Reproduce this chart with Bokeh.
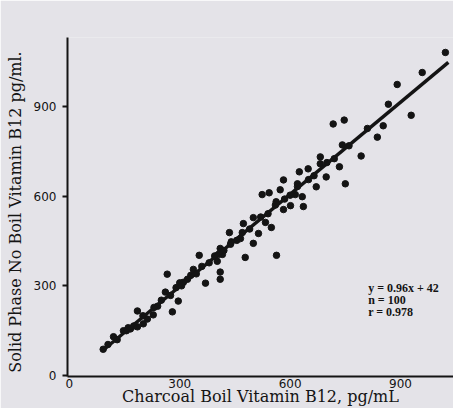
from bokeh.plotting import figure
from bokeh.models import Range1d, Label, FixedTicker, ColumnDataSource
from bokeh.embed import file_html
from bokeh.resources import INLINE

# Scatter data (Charcoal Boil vs Solid Phase No Boil, pg/mL)
charcoal = [1022, 959, 891, 867, 929, 717, 747, 853, 837, 793,
            742, 682, 682, 734, 649, 625, 698, 671, 750, 582,
            573, 620, 614, 633, 636, 601, 582, 524, 543, 562,
            500, 473, 533, 549, 514, 500, 478, 563, 435, 465,
            438, 410, 416, 353, 402, 410, 410, 370, 337, 321,
            266, 310, 296, 280, 261, 228, 185, 212, 185, 147,
            166, 120, 92, 201, 105, 130, 160, 175, 200, 240,
            250, 275, 290, 305, 330, 345, 360, 380, 395, 420,
            440, 455, 470, 490, 520, 540, 560, 600, 620, 650,
            700, 720, 760, 810, 155, 230, 300, 405, 585, 665]
solid_phase = [1080, 1013, 973, 907, 870, 841, 854, 835, 797, 734,
               771, 731, 708, 698, 691, 681, 664, 631, 641, 654,
               621, 641, 605, 598, 565, 568, 555, 605, 611, 581,
               528, 508, 512, 495, 475, 442, 395, 402, 478, 458,
               439, 425, 405, 402, 382, 346, 322, 309, 355, 322,
               339, 312, 249, 213, 279, 203, 216, 189, 163, 150,
               156, 130, 88, 173, 104, 120, 160, 166, 200, 232,
               252, 268, 294, 300, 335, 340, 365, 377, 400, 418,
               447, 452, 478, 490, 530, 541, 570, 603, 632, 655,
               712, 725, 768, 826, 150, 228, 310, 405, 590, 668]

# Regression line as drawn (end points)
fit_x = [90, 1030]
fit_y = [83, 1047]

x_ticks = [0, 300, 600, 900]
y_ticks = [0, 300, 600, 900]

stats_lines = ["y = 0.96x + 42", "n = 100", "r = 0.978"]
stats_y = [292, 252, 213]
stats_x = 812

paper = "#e4e3e8"
ink = "#141414"

p = figure(width=453, height=408, output_backend="svg", toolbar_location=None,
           x_range=Range1d(-5, 1044), y_range=Range1d(-3, 1130),
           min_border_left=67, min_border_right=0, min_border_top=37,
           min_border_bottom=31)
p.background_fill_color = paper
p.border_fill_color = paper
p.outline_line_color = None
p.xgrid.visible = False
p.ygrid.visible = False

src = ColumnDataSource(dict(x=charcoal, y=solid_phase))
p.scatter("x", "y", source=src, size=6.5, color=ink)
p.line(fit_x, fit_y, line_width=3.5, color=ink)

for ax, ticks in ((p.xaxis, x_ticks), (p.yaxis, y_ticks)):
    ax.ticker = FixedTicker(ticks=ticks)
    ax.minor_tick_line_color = None
    ax.axis_line_color = ink
    ax.axis_line_width = 2
    ax.major_tick_line_color = ink
    ax.major_tick_line_width = 2
    ax.major_tick_in = 0
    ax.major_label_text_font = "DejaVu Sans"
    ax.major_label_text_font_size = "12px"
    ax.major_label_text_color = ink
    ax.axis_label_text_font = "DejaVu Serif"
    ax.axis_label_text_font_style = "normal"
    ax.axis_label_text_font_size = "16px"
    ax.axis_label_text_color = ink

p.xaxis.major_tick_out = 0
p.xaxis.major_label_standoff = 2
p.xaxis.axis_label_standoff = -4
p.yaxis.major_tick_out = 5
p.yaxis.major_label_standoff = 6
p.yaxis.axis_label_standoff = 6
p.xaxis.axis_label = "Charcoal Boil Vitamin B12, pg/mL"
p.yaxis.axis_label = "Solid Phase No Boil  Vitamin B12  pg/ml."

for txt, yy in zip(stats_lines, stats_y):
    p.add_layout(Label(x=stats_x, y=yy, text=txt, text_font="Liberation Serif",
                       text_font_style="bold", text_font_size="12px",
                       text_color=ink, text_baseline="middle"))

open("out.html", "w").write(file_html(p, INLINE))
